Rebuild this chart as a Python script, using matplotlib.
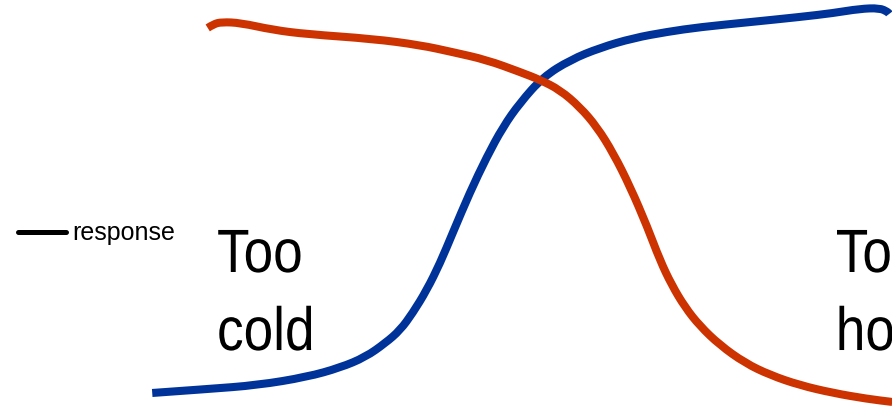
import matplotlib
matplotlib.use("Agg")
import matplotlib.pyplot as plt
from matplotlib.lines import Line2D
from matplotlib.path import Path
from matplotlib.patches import PathPatch
from matplotlib.patheffects import AbstractPathEffect
from matplotlib.transforms import Affine2D

# Conceptual response curves over a temperature scale (0 = cold end, 100 = hot end)
blue_temp = [0.3, 7.7, 14.5, 21.2, 25.7, 29.1, 31.8, 33.8, 35.5, 37.4, 39.2,
             40.9, 43.2, 45.5, 47.7, 50.0, 53.1, 56.8, 60.8, 65.3, 69.9,
             74.3, 81.1, 87.8, 92.3, 95.9, 98.6, 99.7, 99.9]
blue_resp = [1.8, 2.8, 3.8, 5.9, 8.3, 11.0, 14.6, 17.9, 22.3, 28.2, 35.1,
             42.8, 53.1, 62.3, 70.0, 76.2, 82.8, 87.2, 90.3, 92.8, 94.4,
             95.6, 96.9, 98.2, 99.2, 100.3, 100.5, 99.5, 99.0]

red_temp = [7.8, 8.6, 9.7, 12.2, 16.6, 21.2, 30.1, 36.5, 40.9, 45.5, 50.0,
            52.7, 55.4, 58.1, 60.4, 62.6, 64.9, 67.2, 68.9, 70.5, 72.3,
            74.3, 77.0, 80.4, 83.8, 87.8, 92.3, 96.9, 100.3]
red_resp = [95.4, 96.4, 96.9, 96.7, 94.9, 93.8, 92.6, 91.0, 89.2, 87.2, 84.1,
            82.1, 79.5, 75.1, 70.0, 63.3, 54.6, 44.4, 35.9, 29.5, 23.8,
            19.0, 14.1, 9.5, 6.4, 3.8, 1.8, 0.3, -0.5]

legend_label = "response"
cold_label = ["Too", "cold"]
hot_label = ["Too", "hot"]


def smooth_path(xs, ys):
    """Quadratic-Bezier path through the midpoints of consecutive samples."""
    pts = list(zip(xs, ys))
    verts = [pts[0]]
    codes = [Path.MOVETO]
    for i in range(1, len(pts) - 1):
        mid = ((pts[i][0] + pts[i + 1][0]) / 2, (pts[i][1] + pts[i + 1][1]) / 2)
        verts += [pts[i], mid]
        codes += [Path.CURVE3, Path.CURVE3]
    verts.append(pts[-1])
    codes.append(Path.LINETO)
    return Path(verts, codes)


class Condensed(AbstractPathEffect):
    """Draw glyphs horizontally condensed about a fixed left edge (axes x)."""

    def __init__(self, ax, x0, sx):
        super().__init__()
        self.ax, self.x0, self.sx = ax, x0, sx

    def draw_path(self, renderer, gc, tpath, affine, rgbFace=None):
        px = self.ax.transAxes.transform((self.x0, 0))[0]
        t = affine + Affine2D().translate(-px, 0).scale(self.sx, 1).translate(px, 0)
        renderer.draw_path(gc, tpath, t, rgbFace)


W, H, DPI = 892, 407, 100
fig = plt.figure(figsize=(W / DPI, H / DPI), dpi=DPI)
ax = fig.add_axes([0, 0, 1, 1])
ax.set_xlim(-20.27, 100.27)
ax.set_ylim(-1.795, 102.56)
ax.axis("off")

for xs, ys, col in [(blue_temp, blue_resp, "#003399"),
                    (red_temp, red_resp, "#CC3300")]:
    ax.add_patch(PathPatch(smooth_path(xs, ys), fill=False, edgecolor=col,
                           lw=5.8, capstyle="butt", joinstyle="round"))

# Legend entry
ax.add_line(Line2D([0.020, 0.074], [0.43, 0.43], transform=ax.transAxes,
                   color="black", lw=3.6, solid_capstyle="round"))
ax.text(0.081, 0.41, legend_label, transform=ax.transAxes, ha="left",
        va="baseline", fontsize=18, family="Liberation Sans", color="black")

# Zone labels
for x0, words in [(0.2433, cold_label), (0.937, hot_label)]:
    for word, y in zip(words, [0.3317, 0.140]):
        ax.text(x0, y, word, transform=ax.transAxes, ha="left", va="baseline",
                fontsize=44, family="Liberation Sans",
                path_effects=[Condensed(ax, x0, 0.87)])

fig.savefig("out.png", dpi=DPI)
